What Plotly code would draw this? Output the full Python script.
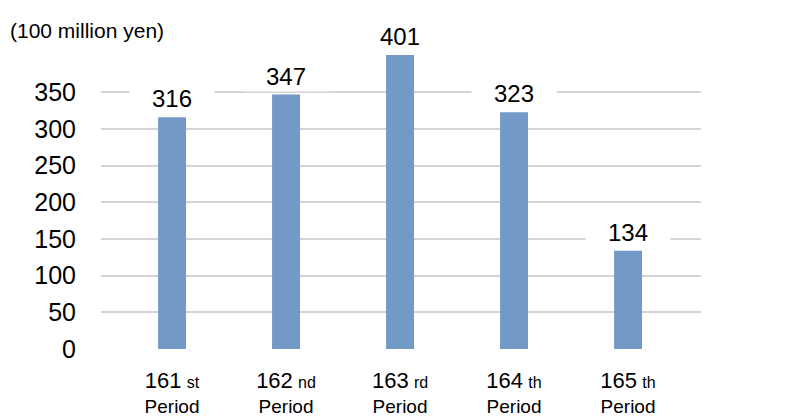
import plotly.graph_objects as go

periods = ["161", "162", "163", "164", "165"]
suffixes = ["st", "nd", "rd", "th", "th"]
values = [316, 347, 401, 323, 134]
y_ticks = [0, 50, 100, 150, 200, 250, 300, 350]
unit_label = "(100 million yen)"

FONT = "Liberation Sans, Arial, sans-serif"
BAR_COLOR = "#7399c6"
GRID = "#d4d4d4"

x = list(range(len(values)))
ticktext = [
    f"<span style='font-size:22px'>{p}</span> <span style='font-size:16px'>{s}</span><br>Period"
    for p, s in zip(periods, suffixes)
]

fig = go.Figure()
fig.add_trace(go.Bar(x=x, y=values, width=0.245, marker=dict(color=BAR_COLOR, line=dict(width=0)),
                     hoverinfo="skip"))

for xi, v in zip(x, values):
    fig.add_annotation(x=xi, y=v, text=str(v), showarrow=False, yanchor="bottom", yshift=3,
                       bgcolor="white", width=82, height=27,
                       font=dict(family=FONT, size=24, color="#000000"))

fig.add_annotation(xref="paper", yref="paper", x=-0.155, y=1.035, xanchor="left", yanchor="middle",
                   text=unit_label, showarrow=False,
                   font=dict(family=FONT, size=21, color="#000000"))

fig.update_layout(
    width=800, height=420,
    margin=dict(l=93, r=107, t=33, b=79),
    paper_bgcolor="white", plot_bgcolor="white",
    showlegend=False,
    font=dict(family=FONT, color="#000000"),
    xaxis=dict(range=[-0.623, 4.64], tickvals=x, ticktext=ticktext, showgrid=False,
               showline=False, zeroline=False, ticks="", tickfont=dict(size=19, family=FONT),
               ticklabelstandoff=19),
    yaxis=dict(range=[0, 420], tickvals=y_ticks, showgrid=True, gridcolor=GRID, gridwidth=2,
               zeroline=False, showline=False, ticks="", ticklabelstandoff=24,
               tickfont=dict(size=25, family=FONT)),
)

fig.write_html("out.html")
